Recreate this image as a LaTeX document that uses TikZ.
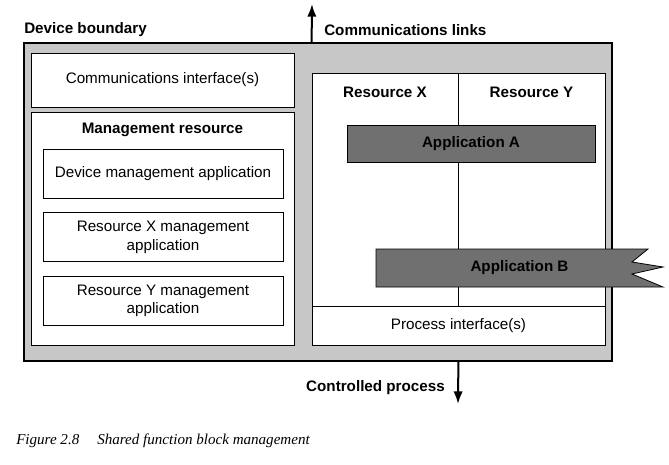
\documentclass[tikz,border=0pt]{standalone}
\usepackage{fontspec}
\setmainfont{Liberation Sans}
\newfontfamily\captionfont{Liberation Serif}
\usetikzlibrary{positioning,arrows.meta}
\definecolor{boundgray}{gray}{0.78}
\definecolor{appgray}{gray}{0.44}
\newcommand{\lbl}{\fontsize{11.4}{13.6}\selectfont}
\tikzset{
    size/.style 2 args={minimum width=#1*0.75pt, minimum height=#2*0.75pt},
    box/.style={draw, fill=white, inner sep=0pt, line width=0.6pt, align=center},
    appbox/.style={box, fill=appgray, font=\lbl\bfseries},
    head/.style={inner sep=0pt, font=\lbl\bfseries},
    flow/.style={line width=1.5pt, -{Latex[length=9.5pt,width=7pt]}}
}

\begin{document}
\begin{tikzpicture}[x=0.75pt, y=-0.75pt, every node/.style={font=\lbl}, node distance=10.5pt]
    \useasboundingbox (0,0) rectangle (669,465);
    % device and its left column
    \node[box, fill=boundgray, line width=1.2pt, size={588}{318}] (device) at (318,202) {};
    \node[head, anchor=west] (devlabel) at (24,30) {Device boundary};
    \node[box, size={263}{54}] (comif) at (162.5,80) {Communications interface(s)};
    \node[box, size={263}{233}] (mgmt) at (162.5,228.5) {};
    \node[head] (mgmttitle) at (162.5,129.5) {Management resource};
    \node[box, size={240}{49}] (devapp) at (163,173.5) {Device management application};
    \node[box, size={240}{49}, below=of devapp] (xapp) {Resource X management\\application};
    \node[box, size={240}{49}, below=of xapp] (yapp) {Resource Y management\\application};
    % resources and process side
    \node[box, size={146}{233}] (resx) at (385,189.5) {};
    \node[box, size={147}{233}, right=0pt of resx] (resy) {};
    \node[head] (resxlabel) at (385,92) {Resource X};
    \node[head] (resylabel) at (531.5,92) {Resource Y};
    \node[box, size={293}{39}] (procif) at (458.5,325.5) {Process interface(s)};
    \node[appbox, size={248}{37}] (appA) at (471,143.5) {Application A};
    \draw[line width=0.6pt, fill=appgray] (376,249) -- (648,249) -- (632,262) -- (663,267)
        -- (632,274) -- (663,287) -- (376,287) -- cycle;
    \node[head] (appB) at (519.5,268) {Application B};
    % links in and out
    \coordinate (linkend) at (312,4);
    \coordinate (procend) at (458,404);
    \draw[flow] (device.north -| resx.west) -- (linkend);
    \draw[flow] (device.south -| resx.east) -- (procend);
    \node[head, anchor=west] (linklabel) at (324,30) {Communications links};
    \node[head, anchor=east] (proclabel) at (445,388) {Controlled process};
    \node[anchor=west, inner sep=0pt, font=\captionfont\itshape\fontsize{11.3}{13}\selectfont] (caption) at (16,441)
        {Figure 2.8\hspace{13.5pt}Shared function block management};
\end{tikzpicture}
\end{document}
